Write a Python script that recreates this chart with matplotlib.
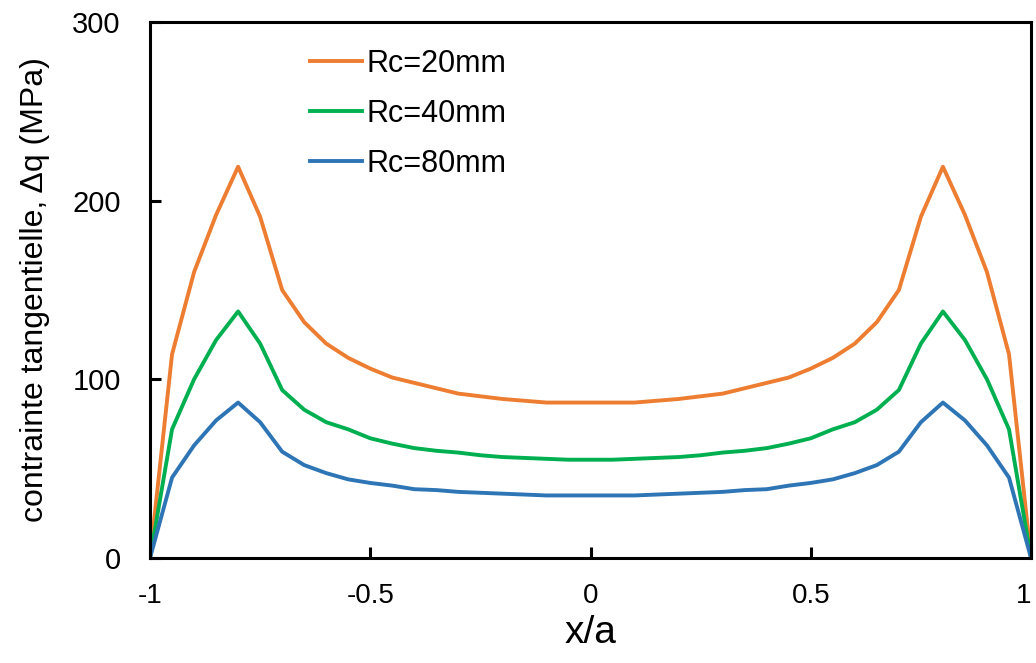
import numpy as np
import matplotlib.pyplot as plt

plt.rcParams['font.family'] = ['Liberation Sans', 'DejaVu Sans']

# === Data (symmetric about x/a = 0) ===
x_half = [-1.0, -0.95, -0.9, -0.85, -0.8, -0.75, -0.7, -0.65, -0.6, -0.55,
          -0.5, -0.45, -0.4, -0.35, -0.3, -0.25, -0.2, -0.15, -0.1, -0.05, 0.0]
rc20_half = [0, 114, 160, 192, 219, 191, 150, 132, 120, 112,
             106, 101, 98, 95, 92, 90.5, 89, 88, 87, 87, 87]
rc40_half = [0, 72, 100, 122, 138, 120, 94, 83, 76, 72,
             67, 64, 61.5, 60, 59, 57.5, 56.5, 56, 55.5, 55, 55]
rc80_half = [0, 45, 63, 77, 87, 76, 59.5, 52, 47.5, 44,
             42, 40.5, 38.5, 38, 37, 36.5, 36, 35.5, 35, 35, 35]

labels = ["Rc=20mm", "Rc=40mm", "Rc=80mm"]
colors = ["#ED7D31", "#00B050", "#2E75B6"]


def mirror(vals):
    # full curve from the left half: -1 .. 0 .. 1
    return list(vals) + list(vals[-2::-1])


x = x_half + [-v for v in x_half[-2::-1]]
series = [mirror(rc20_half), mirror(rc40_half), mirror(rc80_half)]

# === Plotting ===
fig = plt.figure(figsize=(10.36, 6.63), dpi=100)
ax = fig.add_axes([0.1448, 0.1584, 0.8504, 0.8084])

for y, lab, c in zip(series, labels, colors):
    ax.plot(x, y, color=c, lw=2.8, label=lab)

ax.set_xlim(-1, 1)
ax.set_ylim(0, 300)
ax.set_xticks([-1, -0.5, 0, 0.5, 1])
ax.set_xticklabels(["-1", "-0.5", "0", "0.5", "1"])
ax.set_yticks([0, 100, 200, 300])

for s in ax.spines.values():
    s.set_linewidth(2.2)
ax.tick_params(direction='in', length=8, width=2.2, labelsize=21)
ax.tick_params(axis='y', pad=21)
ax.tick_params(axis='x', pad=18, labelsize=20)
# last label sits on the figure edge; keep it inside
ax.get_xticklabels()[-1].set_horizontalalignment('right')

ax.set_xlabel("x/a", fontsize=28, labelpad=4)
ax.set_ylabel("contrainte tangentielle, \u0394q (MPa)", fontsize=23, labelpad=16)

ax.legend(loc='upper left', bbox_to_anchor=(0.1816, 0.95), frameon=False,
          borderpad=0, borderaxespad=0,
          fontsize=22, handlelength=1.7, handletextpad=0.15, labelspacing=0.65)

fig.savefig("out.png", dpi=100)
